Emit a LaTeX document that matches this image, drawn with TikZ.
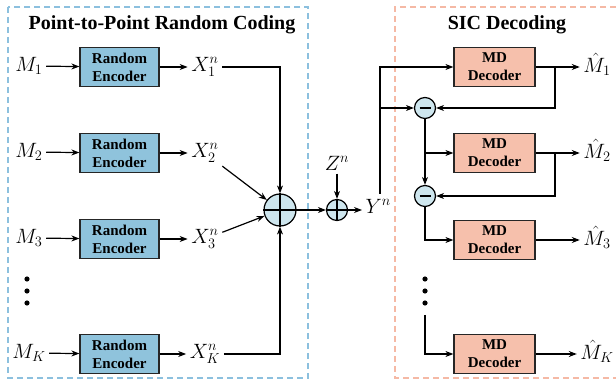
\documentclass[tikz,border=0pt]{standalone}
\usepackage{graphicx}
\usepackage{fontspec}
\setmainfont{Liberation Serif}
\usetikzlibrary{arrows.meta,calc}
\definecolor{encfill}{RGB}{143,195,220}
\definecolor{decfill}{RGB}{246,192,172}
\definecolor{circfill}{RGB}{206,230,238}
\definecolor{bluedash}{RGB}{140,192,222}
\definecolor{reddash}{RGB}{245,185,165}
\newcommand{\lbl}[1]{\scalebox{1.2}{$#1$}}
\begin{document}
\begin{tikzpicture}[x=1pt,y=-1pt,
  line width=1.2pt,
  >={Stealth[length=8pt,width=6pt]},
  enc/.style={draw=black!85, line width=1.2pt, fill=encfill, minimum width=79pt, minimum height=39pt, inner sep=0pt, align=center, font=\fontsize{15}{18}\selectfont\bfseries},
  dec/.style={enc, fill=decfill, minimum width=81pt},
  lab/.style={font=\fontsize{17.28}{20}\selectfont, inner sep=3pt},
  sumc/.style={circle, draw, fill=circfill, minimum size=32pt, inner sep=0pt},
  smallc/.style={circle, draw, fill=circfill, minimum size=21pt, inner sep=0pt},
  ttl/.style={font=\fontsize{20}{24}\selectfont\bfseries},
  dbox/.style={dash pattern=on 6pt off 4pt, line width=1.2pt}
]
\useasboundingbox (0,0) rectangle (616,379);
% dashed frames
\draw[dbox, bluedash] (8,7) rectangle (308,378);
\draw[dbox, reddash] (616,7) -- (395,7) -- (395,378) -- (616,378);
% titles
\node[ttl] (t1) at (162,25) {Point-to-Point Random Coding};
\node[ttl] (t2) at (507,25) {SIC Decoding};
% encoders
\node[enc] (e1) at (119.5,67) {Random\\Encoder};
\node[enc] (e2) at (119.5,153) {Random\\Encoder};
\node[enc] (e3) at (119.5,239) {Random\\Encoder};
\node[enc] (e4) at (119.5,354) {Random\\Encoder};
\node[lab] (M1) at (29,66) {\lbl{M_1}};
\node[lab] (M2) at (29,152) {\lbl{M_2}};
\node[lab] (M3) at (29,238) {\lbl{M_3}};
\node[lab] (M4) at (29,353) {\lbl{M_K}};
\node[lab] (X1) at (205,67) {\lbl{X_1^n}};
\node[lab] (X2) at (205,153) {\lbl{X_2^n}};
\node[lab] (X3) at (205,239) {\lbl{X_3^n}};
\node[lab] (X4) at (205,354) {\lbl{X_K^n}};
\foreach \i in {1,2,3,4}{
  \draw[->] (M\i) -- (e\i);
  \draw[->] (e\i) -- (X\i);
}
\fill (27,279) circle (2.6pt) (27,291) circle (2.6pt) (27,303) circle (2.6pt);
% summation
\node[sumc] (S) at (280,210) {};
\draw (S.north) -- (S.south) (S.west) -- (S.east);
\coordinate (k1) at (280,67);
\coordinate (k4) at (280,354);
\draw[->] (X1.east) -- (k1) -- (S);
\draw[->] (X4.east) -- (k4) -- (S);
\draw[->] (X2) -- (S);
\draw[->] (X3) -- (S);
\node[smallc] (s2) at (337,210) {};
\draw (s2.north) -- (s2.south) (s2.west) -- (s2.east);
\draw[->] (S) -- (s2);
\node[lab] (Z) at (337,163) {\lbl{Z^n}};
\draw[->] (Z) -- (s2);
\node[lab, anchor=west] (Y) at (362,206) {\lbl{Y^n}};
\draw[->] (s2) -- (Y.west |- s2);
% decoders
\node[dec] (d1) at (494.5,67) {MD\\Decoder};
\node[dec] (d2) at (494.5,153) {MD\\Decoder};
\node[dec] (d3) at (494.5,240) {MD\\Decoder};
\node[dec] (d4) at (494.5,354) {MD\\Decoder};
\node[lab] (H1) at (597,64) {\lbl{\hat{M}_1}};
\node[lab] (H2) at (597,150) {\lbl{\hat{M}_2}};
\node[lab] (H3) at (597,237) {\lbl{\hat{M}_3}};
\node[lab] (H4) at (597,351) {\lbl{\hat{M}_K}};
\draw[->] (d1) -- (d1.east -| H1.west);
\draw[->] (d2) -- (d2.east -| H2.west);
\draw[->] (d3) -- (d3.east -| H3.west);
\draw[->] (d4) -- (d4.east -| H4.west);
% subtractors
\node[smallc] (m1) at (425,108) {};
\node[smallc] (m2) at (425,196) {};
\draw[line width=2.2pt] ($(m1)+(-5.5,0)$) -- ($(m1)+(5.5,0)$);
\draw[line width=2.2pt] ($(m2)+(-5.5,0)$) -- ($(m2)+(5.5,0)$);
\coordinate (yt) at (380,194);
\coordinate (yb) at (380,108);
\draw[->] (yt) |- (d1);
\draw[->] (yb) -- (m1);
\coordinate (f1) at (555,67);
\coordinate (f2) at (555,153);
\draw[->] (f1) |- (m1);
\draw[->] (f2) |- (m2);
\draw[->] (m1) -- (m2);
\coordinate (b2) at (425,153);
\draw[->] (b2) -- (d2);
\draw[->] (m2) |- (d3);
\coordinate (dk) at (425,315);
\draw[->] (dk) |- (d4);
\fill (425,279) circle (2.6pt) (425,291) circle (2.6pt) (425,303) circle (2.6pt);
\end{tikzpicture}
\end{document}
